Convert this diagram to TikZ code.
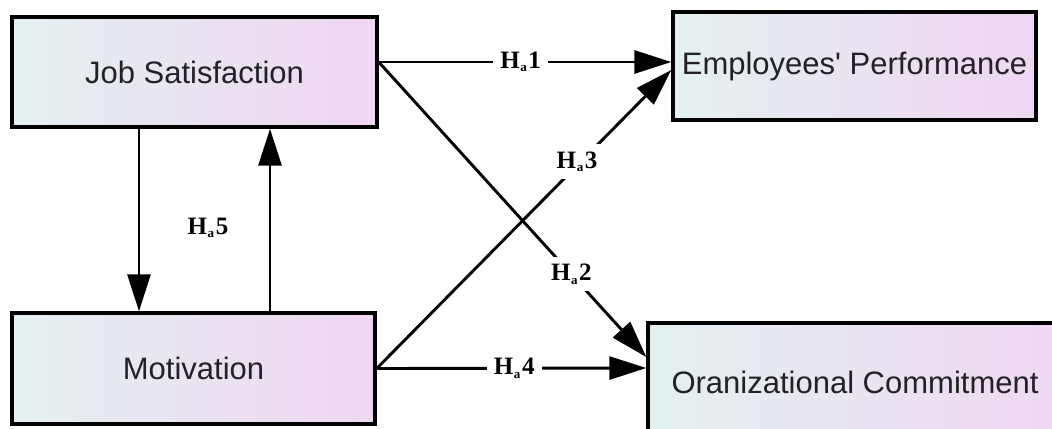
\documentclass[tikz,border=0pt]{standalone}
\usepackage{fontspec}
\setmainfont{Liberation Sans}[Ligatures=TeXOff]
\newfontfamily\labfont{Liberation Serif}
\usetikzlibrary{arrows.meta}
\definecolor{boxleft}{RGB}{228,240,240}
\definecolor{boxright}{RGB}{240,214,242}
\definecolor{boxtext}{RGB}{34,34,38}
\tikzset{
  varbox/.style={draw=black, line width=1.7pt, left color=boxleft, right color=boxright,
    inner sep=0pt, text=boxtext, font=\fontsize{15.5pt}{18pt}\selectfont},
  boxtxt/.style={inner sep=0pt, text=boxtext, font=\fontsize{15.5pt}{18pt}\selectfont},
  conn/.style={line width=1.45pt, -{Triangle[length=18.5pt,width=11.5pt]}},
  hyp/.style={fill=white, inner sep=3.5pt, font=\labfont\bfseries\fontsize{12.5pt}{14pt}\selectfont},
}
\newcommand{\hyplab}[1]{H\kern0.3pt\raisebox{-0.3ex}{\fontsize{6.5pt}{7pt}\selectfont a}\kern0.8pt#1}
\begin{document}
\begin{tikzpicture}[x=0.5pt,y=-0.5pt]
\useasboundingbox (0,0) rectangle (1052,428);
\clip (0,0) rectangle (1052,428);
% boxes
\node[varbox, minimum width=182.5pt, minimum height=55pt] (js) at (194.5,72) {Job Satisfaction};
\node[varbox, minimum width=181.5pt, minimum height=55.5pt] (mot) at (193.5,368.5) {Motivation};
\node[varbox, minimum width=181.5pt, minimum height=54pt] (ep) at (854.5,66) {\raisebox{-2pt}{Employees' Performance}};
\node[varbox, minimum width=222pt, minimum height=57pt] (oc) at (870,380) {};
\node[boxtxt] (octext) at (855,382) {Oranizational Commitment};
% connectors
\draw[conn] ([yshift=5pt]js.east) -- node[hyp, pos=0.485] {\hyplab{1}} ([yshift=2pt]ep.west);
\draw[conn] ([yshift=5pt]js.east) -- node[hyp, pos=0.72] {\hyplab{2}} ([yshift=11.5pt]oc.west);
\draw[conn] (mot.east) -- node[hyp, pos=0.68, yshift=2pt] {\hyplab{3}} ([yshift=-2pt]ep.west);
\draw[conn] (mot.east) -- node[hyp, pos=0.51] {\hyplab{4}} ([yshift=6pt]oc.west);
\draw[conn] ([xshift=-27.75pt]js.south) -- ([xshift=-27.75pt]js.south |- mot.north);
\draw[conn] ([xshift=37.75pt]js.south |- mot.north) -- ([xshift=37.75pt]js.south);
\node[hyp, fill=none] (h5) at (208,228) {\hyplab{5}};
\end{tikzpicture}
\end{document}
